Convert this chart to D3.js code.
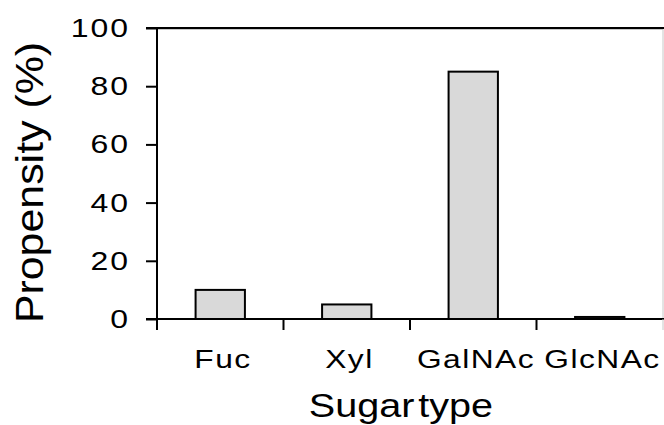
<!DOCTYPE html>
<html>
<head>
<meta charset="utf-8">
<script src="https://cdn.jsdelivr.net/npm/d3@7"></script>
<style>
  html, body { margin: 0; padding: 0; background: #fff; }
  svg { display: block; }
  text { font-family: "Liberation Sans", Arial, sans-serif; fill: #000; }
</style>
</head>
<body>
<div id="chart"></div>
<script>
// Sugar-type propensity data
const categories = ["Fuc", "Xyl", "GalNAc", "GlcNAc"];
const propensity = [10, 5, 85, 0.7];
const yTicks = [0, 20, 40, 60, 80, 100];
const xTitle = "Sugar type";
const yTitle = "Propensity (%)";

const W = 664, H = 425;
const plot = { left: 157, right: 663, top: 28, bottom: 319 };

const svg = d3.select("#chart").append("svg")
  .attr("width", W).attr("height", H);
svg.append("rect").attr("width", W).attr("height", H).attr("fill", "#fff");

const x = d3.scaleBand().domain(categories).range([plot.left, plot.right]).padding(0);
const y = d3.scaleLinear().domain([0, 100]).range([plot.bottom, plot.top]);

// Text widened along its reading direction, with optional tracking
function label(g, px, py, str, o) {
  const k = o.k || 1, track = o.track || 0;
  const tf = `translate(${px},${py})` + (o.rotated ? " rotate(-90)" : "") + ` scale(${k},1)`;
  const t = g.append("text")
    .attr("transform", tf)
    .attr("text-anchor", o.anchor)
    .style("font-size", o.size + "px")
    .style("letter-spacing", track + "px")
    .style("word-spacing", (o.wordSpacing || 0) + "px")
    .text(str);
  // compensate for the trailing tracking after the last glyph
  if (o.anchor === "middle") t.attr("dx", track / 2);
  if (o.anchor === "end") t.attr("dx", track);
  return t;
}

// light plot-area frame
svg.append("rect")
  .attr("x", plot.left).attr("y", y(100) + 1.5)
  .attr("width", plot.right - plot.left).attr("height", plot.bottom - y(100) - 1.5)
  .attr("fill", "none").attr("stroke", "#c8c8c8").attr("stroke-width", 1);

// bars
const barW = x.bandwidth() * 0.39;
svg.append("g").selectAll("rect")
  .data(propensity)
  .join("rect")
  .attr("x", (d, i) => x(categories[i]) + x.bandwidth() / 2 - barW / 2)
  .attr("y", d => y(d))
  .attr("width", barW)
  .attr("height", d => y(0) - y(d))
  .attr("fill", "#d9d9d9")
  .attr("stroke", "#000")
  .attr("stroke-width", 2);

// top rule at the axis maximum
svg.append("line")
  .attr("x1", plot.left - 11).attr("x2", W)
  .attr("y1", y(100)).attr("y2", y(100))
  .attr("stroke", "#000").attr("stroke-width", 2);

// y axis
const yAxis = svg.append("g")
  .attr("transform", `translate(${plot.left},0)`)
  .call(d3.axisLeft(y).tickValues(yTicks).tickSize(11).tickSizeOuter(0).tickFormat(""));
yAxis.select(".domain").attr("stroke-width", 2)
  .attr("d", `M0,${y(100)}V${plot.bottom + 11}`);
yAxis.selectAll(".tick line").attr("stroke-width", 2);

const yLab = svg.append("g");
yTicks.forEach(v => label(yLab, 128, y(v) + 9, String(v),
  { size: 25, k: 1.28, track: 1.5, anchor: "end" }));

// x axis: ticks at category boundaries
const xAxis = svg.append("g")
  .attr("transform", `translate(0,${plot.bottom})`);
xAxis.append("line")
  .attr("x1", plot.left - 11).attr("x2", W)
  .attr("stroke", "#000").attr("stroke-width", 2);
const bounds = categories.slice(1).map(c => x(c));
xAxis.selectAll(".xt").data(bounds).join("line")
  .attr("class", "xt")
  .attr("x1", d => d).attr("x2", d => d)
  .attr("y1", 0).attr("y2", 11)
  .attr("stroke", "#000").attr("stroke-width", 2);
xAxis.append("line")
  .attr("x1", plot.right).attr("x2", plot.right)
  .attr("y1", 0).attr("y2", 11)
  .attr("stroke", "#c8c8c8").attr("stroke-width", 1);

const xLab = svg.append("g");
categories.forEach(c => label(xLab, x(c) + x.bandwidth() / 2 + 2, 368, c,
  { size: 26, k: 1.22, track: 1.2, anchor: "middle" }));

// axis titles
label(svg, 401, 417, xTitle, { size: 33, k: 1.2, wordSpacing: -6, anchor: "middle" });
label(svg, 43, 182.5, yTitle, { size: 39, k: 1.1, anchor: "middle", rotated: true });
</script>
</body>
</html>
